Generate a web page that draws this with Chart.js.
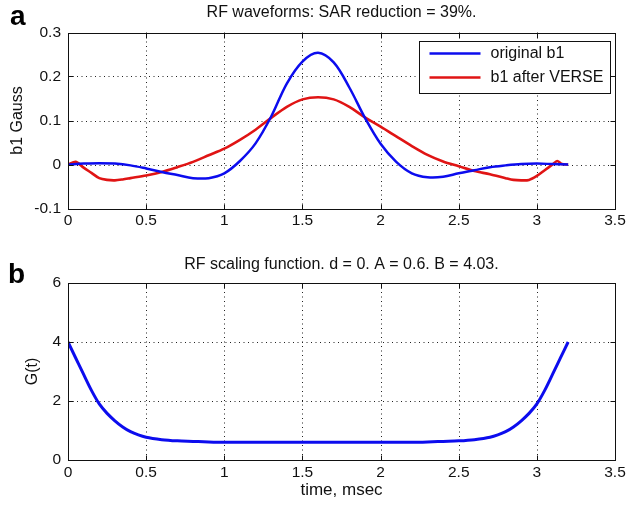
<!DOCTYPE html>
<html>
<head>
<meta charset="utf-8">
<script src="https://cdn.jsdelivr.net/npm/chart.js@4.4.1/dist/chart.umd.min.js"></script>
<style>
html, body { margin: 0; padding: 0; background: #fff; }
#wrap { position: relative; width: 629px; height: 508px; overflow: hidden; background: #fff; }
canvas { position: absolute; left: 0; }
</style>
</head>
<body>
<div id="wrap">
  <canvas id="c1" width="629" height="232" style="top:0px"></canvas>
  <canvas id="c2" width="629" height="276" style="top:232px"></canvas>
</div>
<script>
// ---------- DATA ----------
const timeBlue = [0, 0.1, 0.2, 0.3, 0.4, 0.5, 0.6, 0.7, 0.8, 0.9, 1.0, 1.1, 1.2, 1.3, 1.4, 1.5, 1.6,
                  1.7, 1.8, 1.9, 2.0, 2.1, 2.2, 2.3, 2.4, 2.5, 2.6, 2.7, 2.8, 2.9, 3.0, 3.1, 3.2];
const originalB1 = [0, 0.002, 0.003, 0.002, -0.002, -0.009, -0.017, -0.024, -0.031, -0.031, -0.020, 0.008, 0.048,
                    0.109, 0.184, 0.234, 0.254, 0.232, 0.175, 0.106, 0.047, 0.006, -0.020, -0.029, -0.028, -0.020,
                    -0.013, -0.006, -0.002, 0.001, 0.002, 0.001, 0];

const timeRed = [0, 0.05, 0.1, 0.15, 0.2, 0.25, 0.3, 0.35, 0.4, 0.5, 0.6, 0.7, 0.8, 0.9, 1.0, 1.1, 1.2, 1.3,
                 1.4, 1.5, 1.6, 1.7, 1.8, 1.9, 2.0, 2.1, 2.2, 2.3, 2.4, 2.5, 2.6, 2.7, 2.8, 2.85, 2.9, 2.95,
                 3.0, 3.05, 3.1, 3.13, 3.16, 3.2];
const verseB1 = [0, 0.006, -0.007, -0.019, -0.031, -0.035, -0.036, -0.034, -0.031, -0.025, -0.017, -0.006, 0.006,
                 0.021, 0.036, 0.056, 0.079, 0.106, 0.131, 0.148, 0.153, 0.148, 0.131, 0.107, 0.086, 0.064, 0.042,
                 0.022, 0.007, -0.004, -0.015, -0.022, -0.031, -0.035, -0.036, -0.035, -0.026, -0.013, 0.0, 0.008,
                 0.001, 0];

const timeG = [0, 0.05, 0.1, 0.15, 0.2, 0.25, 0.3, 0.35, 0.4, 0.45, 0.5, 0.6, 0.7, 0.8, 0.9, 1.0, 1.6,
               2.2, 2.3, 2.4, 2.5, 2.6, 2.7, 2.75, 2.8, 2.85, 2.9, 2.95, 3.0, 3.05, 3.1, 3.15, 3.2];
const gValues = [4.0, 3.45, 2.9, 2.36, 1.9, 1.58, 1.33, 1.12, 0.96, 0.85, 0.77, 0.69, 0.65, 0.63, 0.61, 0.60, 0.60,
                 0.60, 0.61, 0.63, 0.65, 0.69, 0.77, 0.85, 0.96, 1.12, 1.33, 1.58, 1.9, 2.36, 2.9, 3.45, 4.0];

const seriesNames = ['original b1', 'b1 after VERSE'];
const xTicks = [0, 0.5, 1, 1.5, 2, 2.5, 3, 3.5];
const xTickLabels = ['0', '0.5', '1', '1.5', '2', '2.5', '3', '3.5'];
const yTicksA = [-0.1, 0, 0.1, 0.2, 0.3];
const yTickLabelsA = ['-0.1', '0', '0.1', '0.2', '0.3'];
const yTicksB = [0, 2, 4, 6];
const yTickLabelsB = ['0', '2', '4', '6'];
const titleA = 'RF waveforms: SAR reduction = 39%.';
const titleB = 'RF scaling function. d = 0. A = 0.6. B = 4.03.';

// ---------- STYLE ----------
const FONT = "'Liberation Sans', Arial, Helvetica, sans-serif";
const TXT = '#111';
const BLUE = '#0c0cee';
const RED = '#e01414';

function pts(xs, ys) { return xs.map((x, i) => ({x: x, y: ys[i]})); }
function fixTicks(values) { return (scale) => { scale.ticks = values.map(v => ({value: v})); }; }

const gridFramePlugin = {
  id: 'gridFrame',
  beforeDatasetsDraw(chart) {
    const {ctx, chartArea: a, scales: {x, y}} = chart;
    ctx.save();
    ctx.strokeStyle = '#222';
    ctx.lineWidth = 1;
    ctx.setLineDash([1, 3.5]);
    x.ticks.forEach(t => {
      const px = Math.round(x.getPixelForValue(t.value)) + 0.5;
      if (px <= a.left + 2 || px >= a.right - 2) return;
      ctx.beginPath(); ctx.moveTo(px, a.top); ctx.lineTo(px, a.bottom); ctx.stroke();
    });
    y.ticks.forEach(t => {
      const py = Math.round(y.getPixelForValue(t.value)) + 0.5;
      if (py <= a.top + 2 || py >= a.bottom - 2) return;
      ctx.beginPath(); ctx.moveTo(a.left, py); ctx.lineTo(a.right, py); ctx.stroke();
    });
    ctx.restore();
  },
  afterDatasetsDraw(chart) {
    const {ctx, chartArea: a, scales: {x, y}} = chart;
    const L = Math.round(a.left) + 0.5, R = Math.round(a.right) + 0.5;
    const T = Math.round(a.top) + 0.5, B = Math.round(a.bottom) + 0.5;
    ctx.save();
    ctx.strokeStyle = '#111';
    ctx.lineWidth = 1;
    ctx.setLineDash([]);
    ctx.strokeRect(L, T, R - L, B - T);
    const tk = 5;
    ctx.beginPath();
    x.ticks.forEach(t => {
      const px = Math.round(x.getPixelForValue(t.value)) + 0.5;
      ctx.moveTo(px, B); ctx.lineTo(px, B - tk);
      ctx.moveTo(px, T); ctx.lineTo(px, T + tk);
    });
    y.ticks.forEach(t => {
      const py = Math.round(y.getPixelForValue(t.value)) + 0.5;
      ctx.moveTo(L, py); ctx.lineTo(L + tk, py);
      ctx.moveTo(R, py); ctx.lineTo(R - tk, py);
    });
    ctx.stroke();
    ctx.restore();
  }
};

const boxLegendPlugin = {
  id: 'boxLegend',
  afterDraw(chart, args, opts) {
    if (!opts || !opts.show) return;
    const {ctx, chartArea: a} = chart;
    const ds = chart.data.datasets;
    ctx.save();
    ctx.font = opts.fontSize + 'px ' + FONT;
    const textW = Math.max.apply(null, ds.map(d => ctx.measureText(d.label).width));
    const padL = 10, lineLen = 51, gap = 10, padR = 7, rowH = 24;
    const w = Math.round(padL + lineLen + gap + textW + padR);
    const h = 52;
    const right = Math.round(a.right - 5) + 0.5;
    const top = Math.round(a.top + 8.5) + 0.5;
    const left = right - w;
    ctx.fillStyle = '#fff';
    ctx.fillRect(left, top, w, h);
    ctx.strokeStyle = '#111';
    ctx.lineWidth = 1;
    ctx.strokeRect(left, top, w, h);
    ds.forEach((d, i) => {
      const cy = top + 12 + i * rowH;
      ctx.strokeStyle = d.borderColor;
      ctx.lineWidth = 2.5;
      ctx.beginPath();
      ctx.moveTo(left + padL, cy);
      ctx.lineTo(left + padL + lineLen, cy);
      ctx.stroke();
      ctx.fillStyle = TXT;
      ctx.textBaseline = 'middle';
      ctx.textAlign = 'left';
      ctx.fillText(d.label, left + padL + lineLen + gap, cy);
    });
    ctx.restore();
  }
};

const panelLetterPlugin = {
  id: 'panelLetter',
  afterDraw(chart, args, opts) {
    if (!opts || !opts.text) return;
    const ctx = chart.ctx;
    ctx.save();
    ctx.font = 'bold 28px ' + FONT;
    ctx.fillStyle = '#000';
    ctx.textBaseline = 'alphabetic';
    ctx.textAlign = 'left';
    ctx.fillText(opts.text, opts.x, opts.y);
    ctx.restore();
  }
};

function axisX(height, showTitle, titlePadBottom) {
  return {
    type: 'linear', min: 0, max: 3.5,
    afterBuildTicks: fixTicks(xTicks),
    afterFit: (s) => { s.height = height; },
    grid: { display: false, drawTicks: false },
    border: { display: false },
    ticks: {
      padding: 3.2, color: TXT, font: { family: FONT, size: 15.5 },
      maxRotation: 0, autoSkip: false,
      callback: (v, i) => xTickLabels[i]
    },
    title: {
      display: showTitle, text: 'time, msec', color: TXT,
      font: { family: FONT, size: 17 }, padding: { top: 0, bottom: titlePadBottom }
    }
  };
}

function axisY(min, max, ticks, labels, title, titlePadTop) {
  return {
    type: 'linear', min: min, max: max,
    afterBuildTicks: fixTicks(ticks),
    afterFit: (s) => { s.width = 68; },
    grid: { display: false, drawTicks: false },
    border: { display: false },
    ticks: {
      padding: 7, color: TXT, font: { family: FONT, size: 15.5 },
      autoSkip: false,
      callback: (v, i) => labels[i]
    },
    title: {
      display: true, text: title, color: TXT,
      font: { family: FONT, size: 16 }, padding: { top: titlePadTop, bottom: 0 }
    }
  };
}

// ---------- CHART a ----------
new Chart(document.getElementById('c1'), {
  type: 'line',
  data: {
    datasets: [
      { label: seriesNames[0], data: pts(timeBlue, originalB1), borderColor: BLUE, borderWidth: 2.5,
        pointRadius: 0, tension: 0.35, fill: false },
      { label: seriesNames[1], data: pts(timeRed, verseB1), borderColor: RED, borderWidth: 2.6,
        pointRadius: 0, tension: 0.3, fill: false }
    ]
  },
  options: {
    responsive: false, animation: false, devicePixelRatio: 1,
    layout: { padding: { left: 0, right: 12, top: 0, bottom: 0 } },
    scales: {
      x: axisX(23.5, false, 0),
      y: axisY(-0.1, 0.3, yTicksA, yTickLabelsA, 'b1 Gauss', 8.4)
    },
    plugins: {
      legend: { display: false },
      tooltip: { enabled: false },
      title: {
        display: true, text: titleA, fullSize: false, color: TXT,
        font: { family: FONT, size: 16, weight: 'normal' }, padding: { top: 3.4, bottom: 9.9 }
      },
      boxLegend: { show: true, fontSize: 16 },
      panelLetter: { text: 'a', x: 10, y: 25 }
    }
  },
  plugins: [gridFramePlugin, boxLegendPlugin, panelLetterPlugin]
});

// ---------- CHART b ----------
new Chart(document.getElementById('c2'), {
  type: 'line',
  data: {
    datasets: [
      { label: 'G(t)', data: pts(timeG, gValues), borderColor: BLUE, borderWidth: 3,
        pointRadius: 0, cubicInterpolationMode: 'monotone', fill: false }
    ]
  },
  options: {
    responsive: false, animation: false, devicePixelRatio: 1,
    layout: { padding: { left: 0, right: 12, top: 0, bottom: 0 } },
    scales: {
      x: axisX(48, true, 7.8),
      y: axisY(0, 6, yTicksB, yTickLabelsB, 'G(t)', 23.4)
    },
    plugins: {
      legend: { display: false },
      tooltip: { enabled: false },
      title: {
        display: true, text: titleB, fullSize: false, color: TXT,
        font: { family: FONT, size: 16, weight: 'normal' }, padding: { top: 23.4, bottom: 8.4 }
      },
      panelLetter: { text: 'b', x: 8, y: 51 }
    }
  },
  plugins: [gridFramePlugin, panelLetterPlugin]
});
</script>
</body>
</html>
